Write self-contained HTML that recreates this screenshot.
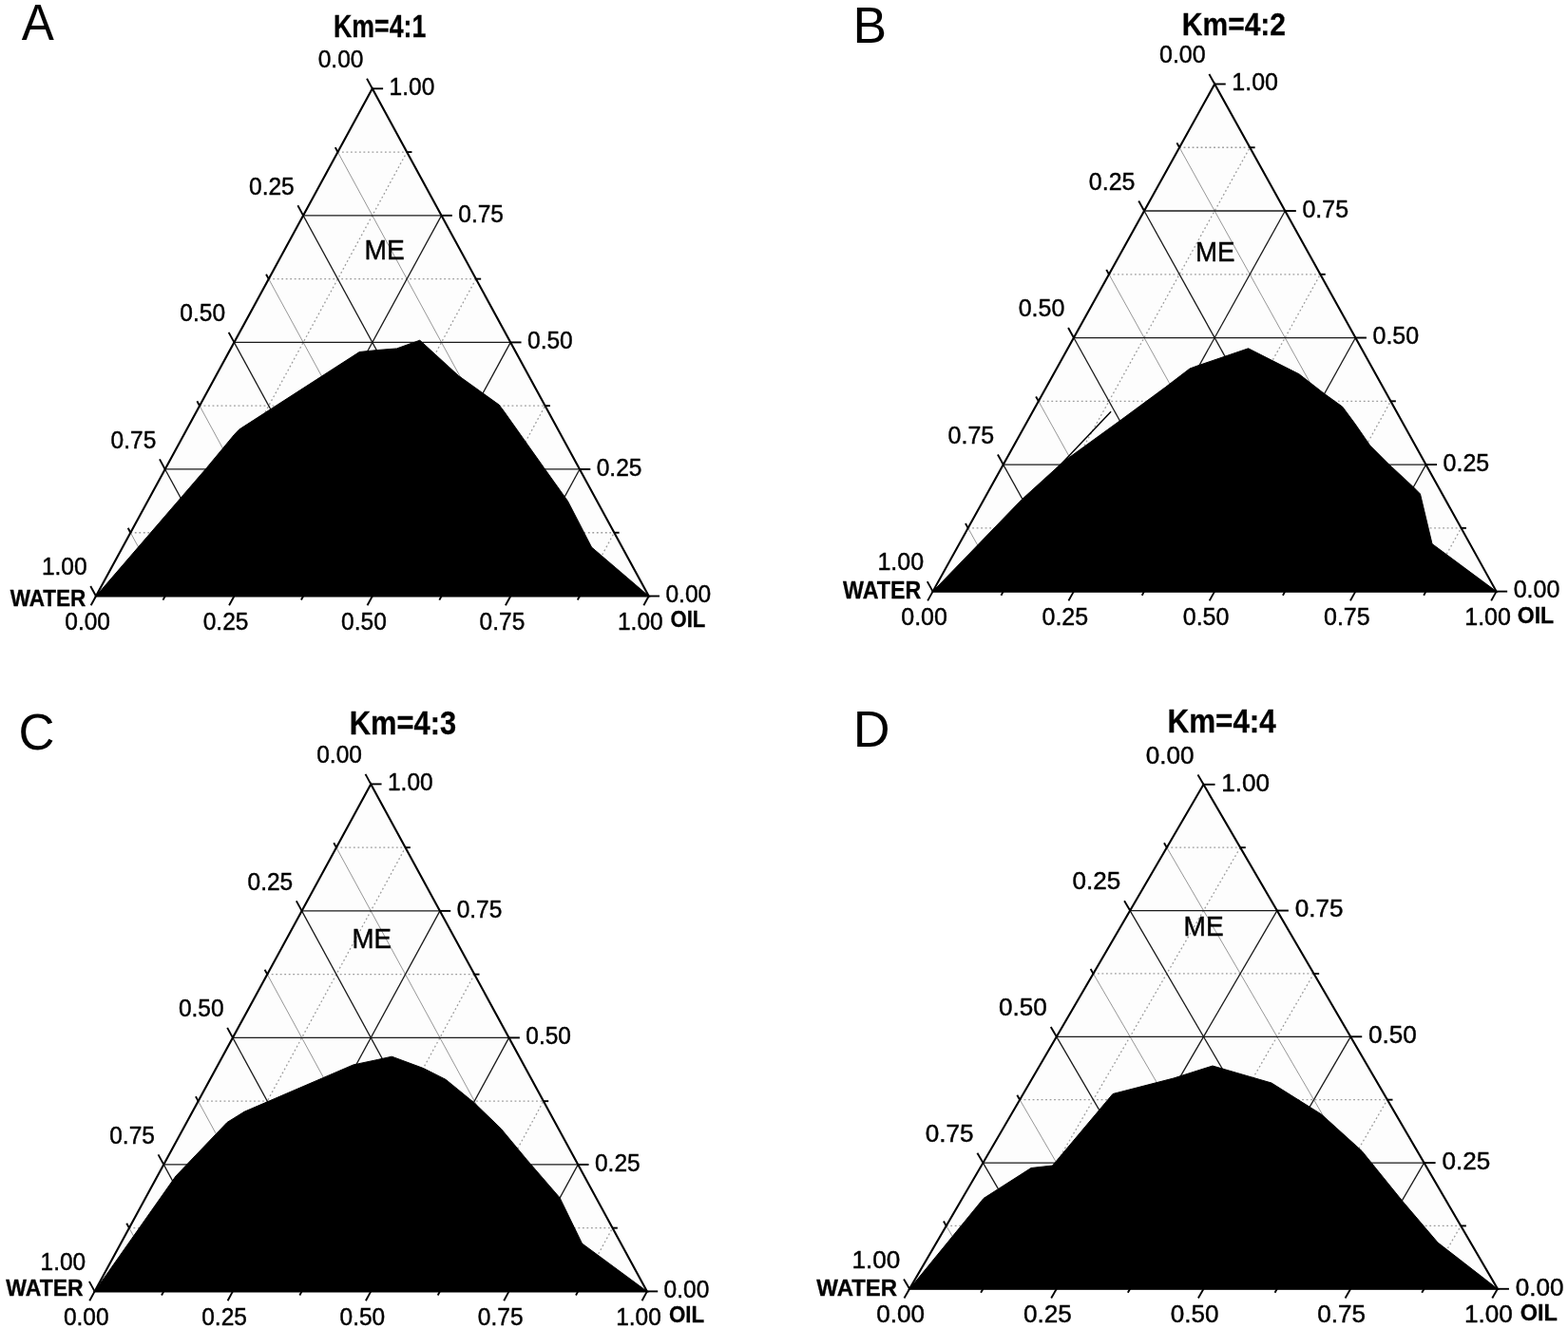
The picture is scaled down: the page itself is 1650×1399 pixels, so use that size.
<!DOCTYPE html>
<html lang="en">
<head>
<meta charset="utf-8">
<title>Pseudo-ternary phase diagrams</title>
<style>
html,body{margin:0;padding:0;background:#fff;}
body{width:1650px;height:1399px;overflow:hidden;}
svg{display:block;}
text{font-family:"Liberation Sans",sans-serif;fill:#000;}
.bg{fill:#fdfdfd;stroke:none;}
.fr{fill:none;stroke:#000;stroke-width:2.1;stroke-linejoin:miter;}
.reg{fill:#000;stroke:#000;stroke-width:1;stroke-linejoin:round;}
.mj{stroke:#1a1a1a;stroke-width:1.3;}
.ms{stroke:#8a8a8a;stroke-width:0.9;}
.mh,.md{stroke:#9c9c9c;stroke-width:1.3;stroke-dasharray:1.8 2.7;}
.tk{stroke:#000;stroke-width:1.9;}
.st{stroke:#000;stroke-width:1.5;}
.lb text,.rg{stroke:#000;stroke-width:0.45;}
.bd{stroke:#000;stroke-width:0.3;}
</style>
</head>
<body>
<svg width="1650" height="1399" viewBox="0 0 1650 1399">
<rect x="0" y="0" width="1650" height="1399" fill="#ffffff"/>
<g>
<polygon class="bg" points="101,627.5 682.7,627.5 391.8,93.3"/>
<line class="mh" x1="137.35" y1="560.73" x2="646.34" y2="560.73"/>
<line class="md" x1="173.71" y1="627.5" x2="428.16" y2="160.07"/>
<line class="ms" x1="137.35" y1="560.73" x2="173.71" y2="627.5"/>
<line class="mh" x1="210.05" y1="427.17" x2="573.61" y2="427.17"/>
<line class="md" x1="319.14" y1="627.5" x2="500.89" y2="293.62"/>
<line class="ms" x1="210.05" y1="427.17" x2="319.14" y2="627.5"/>
<line class="mh" x1="282.75" y1="293.62" x2="500.89" y2="293.62"/>
<line class="md" x1="464.56" y1="627.5" x2="573.61" y2="427.17"/>
<line class="ms" x1="282.75" y1="293.62" x2="464.56" y2="627.5"/>
<line class="mh" x1="355.45" y1="160.07" x2="428.16" y2="160.07"/>
<line class="md" x1="609.99" y1="627.5" x2="646.34" y2="560.73"/>
<line class="ms" x1="355.45" y1="160.07" x2="609.99" y2="627.5"/>
<line class="mj" x1="173.7" y1="493.95" x2="609.98" y2="493.95"/>
<line class="mj" x1="246.43" y1="627.5" x2="464.53" y2="226.85"/>
<line class="mj" x1="173.7" y1="493.95" x2="246.43" y2="627.5"/>
<line class="mj" x1="246.4" y1="360.4" x2="537.25" y2="360.4"/>
<line class="mj" x1="391.85" y1="627.5" x2="537.25" y2="360.4"/>
<line class="mj" x1="246.4" y1="360.4" x2="391.85" y2="627.5"/>
<line class="mj" x1="319.1" y1="226.85" x2="464.53" y2="226.85"/>
<line class="mj" x1="537.28" y1="627.5" x2="609.98" y2="493.95"/>
<line class="mj" x1="319.1" y1="226.85" x2="537.28" y2="627.5"/>
<polygon class="reg" points="101,627.5 217.3,492.7 246.5,457.5 251.5,452.2 378.2,370.5 397.3,368.5 417.5,366.9 441.8,358.2 482.5,395.5 525,426 530,432.5 572.5,492.5 597.5,527.5 622.5,576 682.7,627.5"/>
<line class="tk" x1="101" y1="627.5" x2="95.26" y2="616.96"/>
<line class="tk" x1="682.7" y1="627.5" x2="694.02" y2="627.5"/>
<line class="tk" x1="101" y1="627.5" x2="95.66" y2="637.3"/>
<line class="tk" x1="137.35" y1="560.73" x2="134.67" y2="555.81"/>
<line class="tk" x1="646.34" y1="560.73" x2="651.62" y2="560.73"/>
<line class="tk" x1="173.71" y1="627.5" x2="171.49" y2="631.58"/>
<line class="tk" x1="173.7" y1="493.95" x2="167.96" y2="483.41"/>
<line class="tk" x1="609.98" y1="493.95" x2="621.3" y2="493.95"/>
<line class="tk" x1="246.43" y1="627.5" x2="241.09" y2="637.3"/>
<line class="tk" x1="210.05" y1="427.17" x2="207.37" y2="422.26"/>
<line class="tk" x1="573.61" y1="427.17" x2="578.9" y2="427.17"/>
<line class="tk" x1="319.14" y1="627.5" x2="316.91" y2="631.58"/>
<line class="tk" x1="246.4" y1="360.4" x2="240.66" y2="349.86"/>
<line class="tk" x1="537.25" y1="360.4" x2="548.57" y2="360.4"/>
<line class="tk" x1="391.85" y1="627.5" x2="386.51" y2="637.3"/>
<line class="tk" x1="282.75" y1="293.62" x2="280.07" y2="288.71"/>
<line class="tk" x1="500.89" y1="293.62" x2="506.17" y2="293.62"/>
<line class="tk" x1="464.56" y1="627.5" x2="462.34" y2="631.58"/>
<line class="tk" x1="319.1" y1="226.85" x2="313.36" y2="216.31"/>
<line class="tk" x1="464.53" y1="226.85" x2="475.85" y2="226.85"/>
<line class="tk" x1="537.28" y1="627.5" x2="531.94" y2="637.3"/>
<line class="tk" x1="355.45" y1="160.07" x2="352.77" y2="155.16"/>
<line class="tk" x1="428.16" y1="160.07" x2="433.45" y2="160.07"/>
<line class="tk" x1="609.99" y1="627.5" x2="607.76" y2="631.58"/>
<line class="tk" x1="391.8" y1="93.3" x2="386.06" y2="82.76"/>
<line class="tk" x1="391.8" y1="93.3" x2="403.12" y2="93.3"/>
<line class="tk" x1="682.7" y1="627.5" x2="677.36" y2="637.3"/>
<polygon class="fr" points="101,627.5 682.7,627.5 391.8,93.3"/>
<g class="lb">
<text transform="translate(43.92 605.24) scale(0.9434 1)" font-size="26">1.00</text>
<text transform="translate(700.44 634.24) scale(0.9434 1)" font-size="26">0.00</text>
<text transform="translate(68.26 662.84) scale(0.9434 1)" font-size="26">0.00</text>
<text transform="translate(116.62 471.69) scale(0.9434 1)" font-size="26">0.75</text>
<text transform="translate(627.71 500.69) scale(0.9434 1)" font-size="26">0.25</text>
<text transform="translate(213.69 662.84) scale(0.9434 1)" font-size="26">0.25</text>
<text transform="translate(189.32 338.14) scale(0.9434 1)" font-size="26">0.50</text>
<text transform="translate(554.99 367.14) scale(0.9434 1)" font-size="26">0.50</text>
<text transform="translate(359.11 662.84) scale(0.9434 1)" font-size="26">0.50</text>
<text transform="translate(262.02 204.59) scale(0.9434 1)" font-size="26">0.25</text>
<text transform="translate(482.26 233.59) scale(0.9434 1)" font-size="26">0.75</text>
<text transform="translate(504.54 662.84) scale(0.9434 1)" font-size="26">0.75</text>
<text transform="translate(334.72 71.04) scale(0.9434 1)" font-size="26">0.00</text>
<text transform="translate(409.54 100.04) scale(0.9434 1)" font-size="26">1.00</text>
<text transform="translate(649.96 662.84) scale(0.9434 1)" font-size="26">1.00</text>
</g>
<text transform="translate(10.63 637.85) scale(0.9765 1)" font-size="23.11" font-weight="bold" class="bd">WATER</text>
<text transform="translate(705.44 660.02) scale(0.9613 1)" font-size="23.02" font-weight="bold" class="bd">OIL</text>
<text transform="translate(383.54 273.4) scale(0.9447 1)" font-size="29.87" class="rg">ME</text>
<text transform="translate(351.06 39.05) scale(0.8132 1)" font-size="32.85" font-weight="bold" class="bd">Km=4:1</text>
<text transform="translate(22.65 41.85) scale(0.9431 1)" font-size="54.22">A</text>
</g>
<g>
<polygon class="bg" points="981.6,622.6 1574.6,622.6 1278.2,88.5"/>
<line class="mh" x1="1018.68" y1="555.84" x2="1537.55" y2="555.84"/>
<line class="md" x1="1055.72" y1="622.6" x2="1315.25" y2="155.26"/>
<line class="ms" x1="1018.68" y1="555.84" x2="1055.72" y2="622.6"/>
<line class="mh" x1="1092.83" y1="422.31" x2="1463.45" y2="422.31"/>
<line class="md" x1="1203.97" y1="622.6" x2="1389.35" y2="288.79"/>
<line class="ms" x1="1092.83" y1="422.31" x2="1203.97" y2="622.6"/>
<line class="mh" x1="1166.97" y1="288.79" x2="1389.35" y2="288.79"/>
<line class="md" x1="1352.22" y1="622.6" x2="1463.45" y2="422.31"/>
<line class="ms" x1="1166.97" y1="288.79" x2="1352.22" y2="622.6"/>
<line class="mh" x1="1241.12" y1="155.26" x2="1315.25" y2="155.26"/>
<line class="md" x1="1500.47" y1="622.6" x2="1537.55" y2="555.84"/>
<line class="ms" x1="1241.12" y1="155.26" x2="1500.47" y2="622.6"/>
<line class="mj" x1="1055.75" y1="489.08" x2="1500.5" y2="489.08"/>
<line class="mj" x1="1129.85" y1="622.6" x2="1352.3" y2="222.02"/>
<line class="mj" x1="1055.75" y1="489.08" x2="1129.85" y2="622.6"/>
<line class="mj" x1="1129.9" y1="355.55" x2="1426.4" y2="355.55"/>
<line class="mj" x1="1278.1" y1="622.6" x2="1426.4" y2="355.55"/>
<line class="mj" x1="1129.9" y1="355.55" x2="1278.1" y2="622.6"/>
<line class="mj" x1="1204.05" y1="222.02" x2="1352.3" y2="222.02"/>
<line class="mj" x1="1426.35" y1="622.6" x2="1500.5" y2="489.08"/>
<line class="mj" x1="1204.05" y1="222.02" x2="1426.35" y2="622.6"/>
<line class="st" x1="1112" y1="493.5" x2="1169.1" y2="433.3"/>
<polygon class="reg" points="981.6,622.6 1075,526 1119,486 1179,442.5 1226.5,407.5 1252,388 1261,384.7 1313.6,366.8 1367,393.8 1393,414 1412.7,428.2 1425.5,445.5 1441.8,469.1 1460,487.3 1487.3,512.7 1494.5,520 1507,572.5 1574.6,622.6"/>
<line class="tk" x1="981.6" y1="622.6" x2="975.78" y2="612.11"/>
<line class="tk" x1="1574.6" y1="622.6" x2="1586.14" y2="622.6"/>
<line class="tk" x1="981.6" y1="622.6" x2="976.18" y2="632.36"/>
<line class="tk" x1="1018.68" y1="555.84" x2="1015.96" y2="550.94"/>
<line class="tk" x1="1537.55" y1="555.84" x2="1542.94" y2="555.84"/>
<line class="tk" x1="1055.72" y1="622.6" x2="1053.47" y2="626.67"/>
<line class="tk" x1="1055.75" y1="489.08" x2="1049.93" y2="478.58"/>
<line class="tk" x1="1500.5" y1="489.08" x2="1512.04" y2="489.08"/>
<line class="tk" x1="1129.85" y1="622.6" x2="1124.43" y2="632.36"/>
<line class="tk" x1="1092.83" y1="422.31" x2="1090.11" y2="417.42"/>
<line class="tk" x1="1463.45" y1="422.31" x2="1468.84" y2="422.31"/>
<line class="tk" x1="1203.97" y1="622.6" x2="1201.72" y2="626.67"/>
<line class="tk" x1="1129.9" y1="355.55" x2="1124.08" y2="345.06"/>
<line class="tk" x1="1426.4" y1="355.55" x2="1437.94" y2="355.55"/>
<line class="tk" x1="1278.1" y1="622.6" x2="1272.68" y2="632.36"/>
<line class="tk" x1="1166.97" y1="288.79" x2="1164.26" y2="283.89"/>
<line class="tk" x1="1389.35" y1="288.79" x2="1394.74" y2="288.79"/>
<line class="tk" x1="1352.22" y1="622.6" x2="1349.97" y2="626.67"/>
<line class="tk" x1="1204.05" y1="222.02" x2="1198.23" y2="211.53"/>
<line class="tk" x1="1352.3" y1="222.02" x2="1363.84" y2="222.02"/>
<line class="tk" x1="1426.35" y1="622.6" x2="1420.93" y2="632.36"/>
<line class="tk" x1="1241.12" y1="155.26" x2="1238.41" y2="150.37"/>
<line class="tk" x1="1315.25" y1="155.26" x2="1320.64" y2="155.26"/>
<line class="tk" x1="1500.47" y1="622.6" x2="1498.22" y2="626.67"/>
<line class="tk" x1="1278.2" y1="88.5" x2="1272.38" y2="78.01"/>
<line class="tk" x1="1278.2" y1="88.5" x2="1289.74" y2="88.5"/>
<line class="tk" x1="1574.6" y1="622.6" x2="1569.18" y2="632.36"/>
<polygon class="fr" points="981.6,622.6 1574.6,622.6 1278.2,88.5"/>
<g class="lb">
<text transform="translate(923.41 600.34) scale(0.9617 1)" font-size="26">1.00</text>
<text transform="translate(1592.68 629.34) scale(0.9617 1)" font-size="26">0.00</text>
<text transform="translate(948.23 657.94) scale(0.9617 1)" font-size="26">0.00</text>
<text transform="translate(997.56 466.82) scale(0.9617 1)" font-size="26">0.75</text>
<text transform="translate(1518.58 495.82) scale(0.9617 1)" font-size="26">0.25</text>
<text transform="translate(1096.48 657.94) scale(0.9617 1)" font-size="26">0.25</text>
<text transform="translate(1071.71 333.29) scale(0.9617 1)" font-size="26">0.50</text>
<text transform="translate(1444.48 362.29) scale(0.9617 1)" font-size="26">0.50</text>
<text transform="translate(1244.73 657.94) scale(0.9617 1)" font-size="26">0.50</text>
<text transform="translate(1145.86 199.77) scale(0.9617 1)" font-size="26">0.25</text>
<text transform="translate(1370.38 228.77) scale(0.9617 1)" font-size="26">0.75</text>
<text transform="translate(1392.98 657.94) scale(0.9617 1)" font-size="26">0.75</text>
<text transform="translate(1220.01 66.24) scale(0.9617 1)" font-size="26">0.00</text>
<text transform="translate(1296.28 95.24) scale(0.9617 1)" font-size="26">1.00</text>
<text transform="translate(1541.23 657.94) scale(0.9617 1)" font-size="26">1.00</text>
</g>
<text transform="translate(887.03 629.85) scale(0.9354 1)" font-size="24.85" font-weight="bold" class="bd">WATER</text>
<text transform="translate(1596.7 656.11) scale(0.9666 1)" font-size="23.87" font-weight="bold" class="bd">OIL</text>
<text transform="translate(1258.08 274.65) scale(0.9616 1)" font-size="28.78" class="rg">ME</text>
<text transform="translate(1243.84 36.65) scale(0.9018 1)" font-size="33.24" font-weight="bold" class="bd">Km=4:2</text>
<text transform="translate(897.57 45.15) scale(0.9847 1)" font-size="54.22">B</text>
</g>
<g>
<polygon class="bg" points="99.6,1359.4 680.9,1359.4 390.25,825.4"/>
<line class="mh" x1="135.93" y1="1292.65" x2="644.57" y2="1292.65"/>
<line class="md" x1="172.26" y1="1359.4" x2="426.58" y2="892.15"/>
<line class="ms" x1="135.93" y1="1292.65" x2="172.26" y2="1359.4"/>
<line class="mh" x1="208.59" y1="1159.15" x2="571.91" y2="1159.15"/>
<line class="md" x1="317.59" y1="1359.4" x2="499.24" y2="1025.65"/>
<line class="ms" x1="208.59" y1="1159.15" x2="317.59" y2="1359.4"/>
<line class="mh" x1="281.26" y1="1025.65" x2="499.24" y2="1025.65"/>
<line class="md" x1="462.91" y1="1359.4" x2="571.91" y2="1159.15"/>
<line class="ms" x1="281.26" y1="1025.65" x2="462.91" y2="1359.4"/>
<line class="mh" x1="353.92" y1="892.15" x2="426.58" y2="892.15"/>
<line class="md" x1="608.24" y1="1359.4" x2="644.57" y2="1292.65"/>
<line class="ms" x1="353.92" y1="892.15" x2="608.24" y2="1359.4"/>
<line class="mj" x1="172.26" y1="1225.9" x2="608.24" y2="1225.9"/>
<line class="mj" x1="244.92" y1="1359.4" x2="462.91" y2="958.9"/>
<line class="mj" x1="172.26" y1="1225.9" x2="244.92" y2="1359.4"/>
<line class="mj" x1="244.92" y1="1092.4" x2="535.58" y2="1092.4"/>
<line class="mj" x1="390.25" y1="1359.4" x2="535.58" y2="1092.4"/>
<line class="mj" x1="244.92" y1="1092.4" x2="390.25" y2="1359.4"/>
<line class="mj" x1="317.59" y1="958.9" x2="462.91" y2="958.9"/>
<line class="mj" x1="535.57" y1="1359.4" x2="608.24" y2="1225.9"/>
<line class="mj" x1="317.59" y1="958.9" x2="535.57" y2="1359.4"/>
<polygon class="reg" points="99.6,1359.4 185,1238 239,1181.5 257,1170.3 371.8,1120.9 397.3,1115.5 412.3,1112.2 445.5,1124.5 469.1,1136.4 499.1,1160.9 527.3,1188.2 554.5,1220.9 589.1,1260.9 612.5,1309 680.9,1359.4"/>
<line class="tk" x1="99.6" y1="1359.4" x2="93.86" y2="1348.86"/>
<line class="tk" x1="680.9" y1="1359.4" x2="692.21" y2="1359.4"/>
<line class="tk" x1="99.6" y1="1359.4" x2="94.26" y2="1369.2"/>
<line class="tk" x1="135.93" y1="1292.65" x2="133.25" y2="1287.73"/>
<line class="tk" x1="644.57" y1="1292.65" x2="649.85" y2="1292.65"/>
<line class="tk" x1="172.26" y1="1359.4" x2="170.04" y2="1363.48"/>
<line class="tk" x1="172.26" y1="1225.9" x2="166.53" y2="1215.36"/>
<line class="tk" x1="608.24" y1="1225.9" x2="619.55" y2="1225.9"/>
<line class="tk" x1="244.92" y1="1359.4" x2="239.59" y2="1369.2"/>
<line class="tk" x1="208.59" y1="1159.15" x2="205.92" y2="1154.23"/>
<line class="tk" x1="571.91" y1="1159.15" x2="577.19" y2="1159.15"/>
<line class="tk" x1="317.59" y1="1359.4" x2="315.36" y2="1363.48"/>
<line class="tk" x1="244.92" y1="1092.4" x2="239.19" y2="1081.86"/>
<line class="tk" x1="535.58" y1="1092.4" x2="546.89" y2="1092.4"/>
<line class="tk" x1="390.25" y1="1359.4" x2="384.91" y2="1369.2"/>
<line class="tk" x1="281.26" y1="1025.65" x2="278.58" y2="1020.73"/>
<line class="tk" x1="499.24" y1="1025.65" x2="504.52" y2="1025.65"/>
<line class="tk" x1="462.91" y1="1359.4" x2="460.69" y2="1363.48"/>
<line class="tk" x1="317.59" y1="958.9" x2="311.85" y2="948.36"/>
<line class="tk" x1="462.91" y1="958.9" x2="474.23" y2="958.9"/>
<line class="tk" x1="535.57" y1="1359.4" x2="530.24" y2="1369.2"/>
<line class="tk" x1="353.92" y1="892.15" x2="351.24" y2="887.23"/>
<line class="tk" x1="426.58" y1="892.15" x2="431.86" y2="892.15"/>
<line class="tk" x1="608.24" y1="1359.4" x2="606.01" y2="1363.48"/>
<line class="tk" x1="390.25" y1="825.4" x2="384.51" y2="814.86"/>
<line class="tk" x1="390.25" y1="825.4" x2="401.56" y2="825.4"/>
<line class="tk" x1="680.9" y1="1359.4" x2="675.56" y2="1369.2"/>
<polygon class="fr" points="99.6,1359.4 680.9,1359.4 390.25,825.4"/>
<g class="lb">
<text transform="translate(42.56 1337.14) scale(0.9428 1)" font-size="26">1.00</text>
<text transform="translate(698.62 1366.14) scale(0.9428 1)" font-size="26">0.00</text>
<text transform="translate(66.88 1394.74) scale(0.9428 1)" font-size="26">0.00</text>
<text transform="translate(115.22 1203.64) scale(0.9428 1)" font-size="26">0.75</text>
<text transform="translate(625.96 1232.64) scale(0.9428 1)" font-size="26">0.25</text>
<text transform="translate(212.21 1394.74) scale(0.9428 1)" font-size="26">0.25</text>
<text transform="translate(187.88 1070.14) scale(0.9428 1)" font-size="26">0.50</text>
<text transform="translate(553.3 1099.14) scale(0.9428 1)" font-size="26">0.50</text>
<text transform="translate(357.53 1394.74) scale(0.9428 1)" font-size="26">0.50</text>
<text transform="translate(260.55 936.64) scale(0.9428 1)" font-size="26">0.25</text>
<text transform="translate(480.64 965.64) scale(0.9428 1)" font-size="26">0.75</text>
<text transform="translate(502.86 1394.74) scale(0.9428 1)" font-size="26">0.75</text>
<text transform="translate(333.21 803.14) scale(0.9428 1)" font-size="26">0.00</text>
<text transform="translate(407.97 832.14) scale(0.9428 1)" font-size="26">1.00</text>
<text transform="translate(648.18 1394.74) scale(0.9428 1)" font-size="26">1.00</text>
</g>
<text transform="translate(6.33 1364.25) scale(0.9777 1)" font-size="23.55" font-weight="bold" class="bd">WATER</text>
<text transform="translate(703.93 1392.02) scale(0.9520 1)" font-size="23.45" font-weight="bold" class="bd">OIL</text>
<text transform="translate(370.58 998.4) scale(0.9265 1)" font-size="29.87" class="rg">ME</text>
<text transform="translate(367.78 773.47) scale(0.8862 1)" font-size="34.84" font-weight="bold" class="bd">Km=4:3</text>
<text transform="translate(19.47 788.71) scale(0.9776 1)" font-size="53.81">C</text>
</g>
<g>
<polygon class="bg" points="957.1,1356.8 1575.9,1356.8 1266.5,825.8"/>
<line class="mh" x1="995.77" y1="1290.42" x2="1537.23" y2="1290.42"/>
<line class="md" x1="1034.45" y1="1356.8" x2="1305.17" y2="892.17"/>
<line class="ms" x1="995.77" y1="1290.42" x2="1034.45" y2="1356.8"/>
<line class="mh" x1="1073.12" y1="1157.67" x2="1459.88" y2="1157.67"/>
<line class="md" x1="1189.15" y1="1356.8" x2="1382.53" y2="1024.92"/>
<line class="ms" x1="1073.12" y1="1157.67" x2="1189.15" y2="1356.8"/>
<line class="mh" x1="1150.47" y1="1024.92" x2="1382.53" y2="1024.92"/>
<line class="md" x1="1343.85" y1="1356.8" x2="1459.88" y2="1157.67"/>
<line class="ms" x1="1150.47" y1="1024.92" x2="1343.85" y2="1356.8"/>
<line class="mh" x1="1227.83" y1="892.17" x2="1305.17" y2="892.17"/>
<line class="md" x1="1498.55" y1="1356.8" x2="1537.23" y2="1290.42"/>
<line class="ms" x1="1227.83" y1="892.17" x2="1498.55" y2="1356.8"/>
<line class="mj" x1="1034.45" y1="1224.05" x2="1498.55" y2="1224.05"/>
<line class="mj" x1="1111.8" y1="1356.8" x2="1343.85" y2="958.55"/>
<line class="mj" x1="1034.45" y1="1224.05" x2="1111.8" y2="1356.8"/>
<line class="mj" x1="1111.8" y1="1091.3" x2="1421.2" y2="1091.3"/>
<line class="mj" x1="1266.5" y1="1356.8" x2="1421.2" y2="1091.3"/>
<line class="mj" x1="1111.8" y1="1091.3" x2="1266.5" y2="1356.8"/>
<line class="mj" x1="1189.15" y1="958.55" x2="1343.85" y2="958.55"/>
<line class="mj" x1="1421.2" y1="1356.8" x2="1498.55" y2="1224.05"/>
<line class="mj" x1="1189.15" y1="958.55" x2="1421.2" y2="1356.8"/>
<polygon class="reg" points="957.1,1356.8 1035,1261.5 1085,1229.5 1107.5,1227 1171,1151.5 1235,1135 1276,1122 1338,1140 1390.5,1173 1433,1211.5 1475.5,1264 1513,1308 1575.9,1356.8"/>
<line class="tk" x1="957.1" y1="1356.8" x2="951.06" y2="1346.43"/>
<line class="tk" x1="1575.9" y1="1356.8" x2="1587.94" y2="1356.8"/>
<line class="tk" x1="957.1" y1="1356.8" x2="951.48" y2="1366.44"/>
<line class="tk" x1="995.77" y1="1290.42" x2="992.96" y2="1285.59"/>
<line class="tk" x1="1537.23" y1="1290.42" x2="1542.84" y2="1290.42"/>
<line class="tk" x1="1034.45" y1="1356.8" x2="1032.11" y2="1360.82"/>
<line class="tk" x1="1034.45" y1="1224.05" x2="1028.41" y2="1213.68"/>
<line class="tk" x1="1498.55" y1="1224.05" x2="1510.59" y2="1224.05"/>
<line class="tk" x1="1111.8" y1="1356.8" x2="1106.18" y2="1366.44"/>
<line class="tk" x1="1073.12" y1="1157.67" x2="1070.31" y2="1152.84"/>
<line class="tk" x1="1459.88" y1="1157.67" x2="1465.49" y2="1157.67"/>
<line class="tk" x1="1189.15" y1="1356.8" x2="1186.81" y2="1360.82"/>
<line class="tk" x1="1111.8" y1="1091.3" x2="1105.76" y2="1080.93"/>
<line class="tk" x1="1421.2" y1="1091.3" x2="1433.24" y2="1091.3"/>
<line class="tk" x1="1266.5" y1="1356.8" x2="1260.88" y2="1366.44"/>
<line class="tk" x1="1150.47" y1="1024.92" x2="1147.66" y2="1020.09"/>
<line class="tk" x1="1382.53" y1="1024.92" x2="1388.14" y2="1024.92"/>
<line class="tk" x1="1343.85" y1="1356.8" x2="1341.51" y2="1360.82"/>
<line class="tk" x1="1189.15" y1="958.55" x2="1183.11" y2="948.18"/>
<line class="tk" x1="1343.85" y1="958.55" x2="1355.89" y2="958.55"/>
<line class="tk" x1="1421.2" y1="1356.8" x2="1415.58" y2="1366.44"/>
<line class="tk" x1="1227.83" y1="892.17" x2="1225.01" y2="887.34"/>
<line class="tk" x1="1305.17" y1="892.17" x2="1310.79" y2="892.17"/>
<line class="tk" x1="1498.55" y1="1356.8" x2="1496.21" y2="1360.82"/>
<line class="tk" x1="1266.5" y1="825.8" x2="1260.46" y2="815.43"/>
<line class="tk" x1="1266.5" y1="825.8" x2="1278.54" y2="825.8"/>
<line class="tk" x1="1575.9" y1="1356.8" x2="1570.28" y2="1366.44"/>
<polygon class="fr" points="957.1,1356.8 1575.9,1356.8 1266.5,825.8"/>
<g class="lb">
<text transform="translate(896.38 1334.54) scale(1.0036 1)" font-size="26">1.00</text>
<text transform="translate(1594.77 1363.54) scale(1.0036 1)" font-size="26">0.00</text>
<text transform="translate(922.27 1392.14) scale(1.0036 1)" font-size="26">0.00</text>
<text transform="translate(973.73 1201.79) scale(1.0036 1)" font-size="26">0.75</text>
<text transform="translate(1517.42 1230.79) scale(1.0036 1)" font-size="26">0.25</text>
<text transform="translate(1076.97 1392.14) scale(1.0036 1)" font-size="26">0.25</text>
<text transform="translate(1051.08 1069.04) scale(1.0036 1)" font-size="26">0.50</text>
<text transform="translate(1440.07 1098.04) scale(1.0036 1)" font-size="26">0.50</text>
<text transform="translate(1231.67 1392.14) scale(1.0036 1)" font-size="26">0.50</text>
<text transform="translate(1128.43 936.29) scale(1.0036 1)" font-size="26">0.25</text>
<text transform="translate(1362.72 965.29) scale(1.0036 1)" font-size="26">0.75</text>
<text transform="translate(1386.37 1392.14) scale(1.0036 1)" font-size="26">0.75</text>
<text transform="translate(1205.78 803.54) scale(1.0036 1)" font-size="26">0.00</text>
<text transform="translate(1285.37 832.54) scale(1.0036 1)" font-size="26">1.00</text>
<text transform="translate(1541.07 1392.14) scale(1.0036 1)" font-size="26">1.00</text>
</g>
<text transform="translate(859.33 1364.25) scale(1.0380 1)" font-size="23.11" font-weight="bold" class="bd">WATER</text>
<text transform="translate(1599.69 1389.61) scale(0.9850 1)" font-size="23.87" font-weight="bold" class="bd">OIL</text>
<text transform="translate(1245.55 984.65) scale(0.9742 1)" font-size="28.78" class="rg">ME</text>
<text transform="translate(1228.55 771.45) scale(0.8743 1)" font-size="35.9" font-weight="bold" class="bd">Km=4:4</text>
<text transform="translate(897.75 786.05) scale(0.9855 1)" font-size="54.51">D</text>
</g>
</svg>
</body>
</html>
